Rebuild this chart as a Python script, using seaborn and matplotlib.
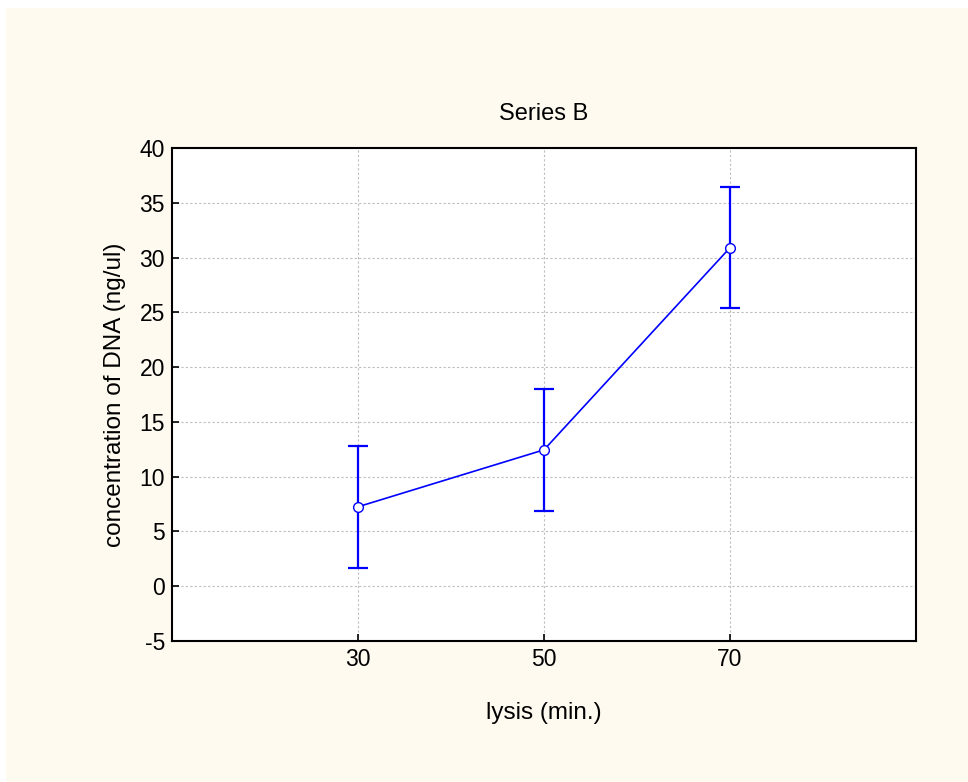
import matplotlib
matplotlib.use("Agg")
import matplotlib.pyplot as plt
import seaborn as sns
import pandas as pd
from matplotlib.patches import Rectangle

lysis = [30, 50, 70]
conc = [7.25, 12.45, 30.9]
err = [5.55, 5.55, 5.55]
yticks = [-5, 0, 5, 10, 15, 20, 25, 30, 35, 40]
xticks = [30, 50, 70]

sns.set_style("white")
plt.rcParams['font.family'] = ['Liberation Sans', 'DejaVu Sans']
plt.rcParams['text.color'] = 'black'
plt.rcParams['axes.labelcolor'] = 'black'

df = pd.DataFrame({"lysis": lysis, "conc": conc, "err": err})

fig = plt.figure(figsize=(9.68, 7.82), dpi=100)
fig.patch.set_facecolor("white")
fig.patches.append(Rectangle((6/968, -0.01), 1, 1.01 - 8/782, transform=fig.transFigure,
                             facecolor="#fefaf0", edgecolor="none", zorder=-10))
ax = fig.add_axes([172/968, 1 - 641/782, (916 - 172)/968, (641 - 148)/782])
ax.set_facecolor("white")

ax.errorbar(df["lysis"], df["conc"], yerr=df["err"], fmt="none", ecolor="#0000ff",
            elinewidth=1.6, capsize=7, capthick=1.6, zorder=3)
sns.lineplot(data=df, x="lysis", y="conc", ax=ax, color="#0000ff", linewidth=1.2,
             marker="o", markersize=7, markerfacecolor="white", markeredgecolor="#0000ff",
             markeredgewidth=1.0, zorder=4)

ax.set_xlim(10, 90)
ax.set_ylim(-5, 40)
ax.set_xticks(xticks)
ax.set_yticks(yticks)
ax.set_yticklabels([str(v) for v in yticks])
ax.grid(True, color="#bdbdbd", linestyle=(0, (2, 2)), linewidth=0.8)
ax.set_axisbelow(True)
for s in ax.spines.values():
    s.set_color("black")
    s.set_linewidth(1.5)
ax.tick_params(direction="in", length=5, width=1.2, labelsize=16.5, pad=5,
               left=True, bottom=True, colors="black")
ax.set_xlabel("lysis (min.)", fontsize=17.5, labelpad=22)
ax.set_ylabel("concentration of DNA (ng/ul)", fontsize=17.5, labelpad=10)
ax.set_title("Series B", fontsize=17, pad=20)

fig.savefig("out.png", dpi=100, facecolor=fig.get_facecolor())
